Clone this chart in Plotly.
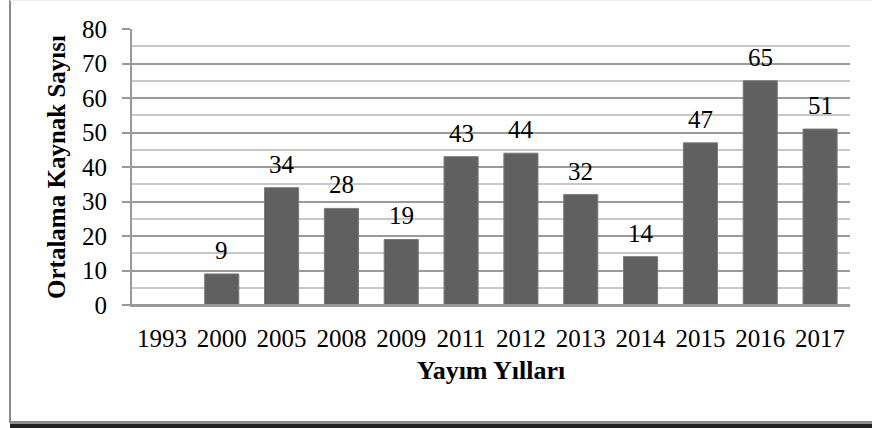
import plotly.graph_objects as go

years = ["1993", "2000", "2005", "2008", "2009", "2011", "2012", "2013", "2014", "2015", "2016", "2017"]
values = [0, 9, 34, 28, 19, 43, 44, 32, 14, 47, 65, 51]
labels = ["" if v == 0 else str(v) for v in values]

W, H = 872, 428
L, R, T, B = 132, 22, 29, 123
pw = W - L - R
ph = H - T - B

def px(x):
    return (x - L) / pw

def py(y):
    return (H - B - y) / ph

font = "Liberation Serif, Times New Roman, serif"

fig = go.Figure(go.Bar(
    x=years, y=values,
    marker=dict(color="#606060", line=dict(color="#7a7a7a", width=1)),
))

annotations = [
    dict(x=i, y=v, text=t, xref="x", yref="y", showarrow=False,
         yanchor="bottom", yshift=8, font=dict(family=font, size=25, color="#000"))
    for i, (v, t) in enumerate(zip(values, labels)) if t
]

fig.update_layout(
    width=W, height=H,
    margin=dict(l=L, r=R, t=T, b=B),
    paper_bgcolor="white", plot_bgcolor="white",
    bargap=0.43,
    showlegend=False,
    font=dict(family=font, color="#000"),
    annotations=annotations,
    xaxis=dict(
        type="category", range=[-0.5, len(years) - 0.5],
        showgrid=False, showline=True, linecolor="#999", linewidth=2,
        ticks="", tickfont=dict(family=font, size=25, color="#000"), ticklabelstandoff=10,
        title=dict(text="<b>Yayım Yılları</b>", font=dict(family=font, size=26, color="#000"), standoff=10),
    ),
    yaxis=dict(
        range=[0, 80], dtick=10, tick0=0,
        showgrid=True, gridcolor="#9a9a9a", gridwidth=1.5,
        showline=True, linecolor="#999", linewidth=2,
        ticks="outside", ticklen=8, tickcolor="#999", tickwidth=2,
        tickfont=dict(family=font, size=25, color="#000"), ticklabelstandoff=10,
        zeroline=False,
        minor=dict(dtick=5, showgrid=True, gridcolor="#c8c8c8", gridwidth=1.5, ticks=""),
        title=dict(text="<b>Ortalama Kaynak Sayısı</b>", font=dict(family=font, size=25, color="#000"), standoff=9),
    ),
)

shapes = [
    dict(type="line", xref="paper", yref="paper", x0=px(124), x1=px(850), y0=0, y1=0,
         line=dict(color="#999", width=2)),
    dict(type="line", xref="paper", yref="paper", x0=px(10), x1=px(10), y0=py(0), y1=py(422),
         line=dict(color="#8c8c8c", width=2)),
    dict(type="line", xref="paper", yref="paper", x0=px(9), x1=px(872), y0=py(422), y1=py(422),
         line=dict(color="#8c8c8c", width=2)),
    dict(type="rect", xref="paper", yref="paper", x0=px(10), x1=px(872), y0=py(423.5), y1=py(428),
         fillcolor="#222", line=dict(width=0)),
    dict(type="line", xref="paper", yref="paper", x0=px(10), x1=px(872), y0=py(0.5), y1=py(0.5),
         line=dict(color="#eeeeee", width=1)),
]
fig.update_layout(shapes=shapes)

fig.write_html("out.html")
